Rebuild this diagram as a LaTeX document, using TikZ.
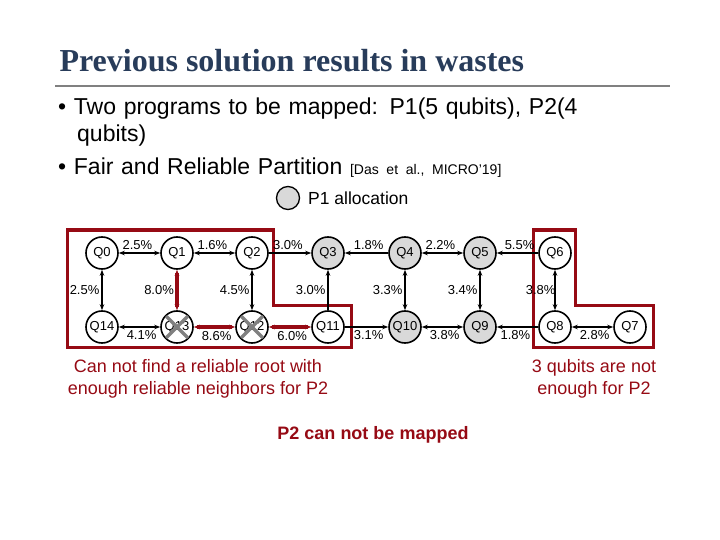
\documentclass[tikz,border=0pt]{standalone}
\usepackage{fontspec}
\setmainfont{Liberation Sans}
\newfontfamily\titlefont{Liberation Serif}
\usetikzlibrary{arrows.meta}
\definecolor{dred}{RGB}{150,10,20}
\definecolor{tblue}{RGB}{40,60,90}
\begin{document}
\begin{tikzpicture}[x=1pt,y=-1pt,
  q/.style={circle,draw,line width=1.6pt,minimum size=32pt,inner sep=0pt,font=\fontsize{13}{15}\selectfont,fill=white},
  g/.style={q,fill=gray!30},
  lk/.style={line width=2.2pt,{Stealth[length=6pt]}-{Stealth[length=6pt]}},
  ok/.style={line width=2.2pt,-{Stealth[length=6pt]}},
  rk/.style={lk,draw=dred,line width=3.2pt},
  lb/.style={font=\fontsize{13}{15}\selectfont,inner sep=0.5pt},
  box/.style={draw=dred,line width=3pt}]
\useasboundingbox (0,0) rectangle (720,540);
\node[anchor=west,font=\titlefont\bfseries\fontsize{32}{36}\selectfont,text=tblue] (title) at (56,61) {Previous solution results in wastes};
\draw[gray,line width=2.5pt] (55,86) -- (670,86);
\node[anchor=north west,text width=660pt,font=\fontsize{23}{27}\selectfont,inner sep=0pt] (b) at (58,98) {%
\textbullet\ Two programs to be mapped: P1(5 qubits), P2(4\\
\hspace*{19pt}qubits)\\[6pt]
\textbullet\ Fair and Reliable Partition {\fontsize{14}{16}\selectfont[Das et al., MICRO'19]}};
\node[circle,draw,line width=1.3pt,fill=gray!30,minimum size=23pt,inner sep=0pt] (leg) at (288,198) {};
\node[anchor=west,font=\fontsize{17.5}{20}\selectfont,inner sep=0pt] (legt) at (308,198) {P1 allocation};
\draw[box] (67,230) -- (273,230) -- (273,305) -- (351,305) -- (351,347) -- (67,347) -- cycle;
\draw[box] (533,230) -- (575,230) -- (575,305) -- (653,305) -- (653,347) -- (533,347) -- cycle;
\node[q] (Q0) at (102,253) {Q0};
\node[q] (Q1) at (177,253) {Q1};
\node[q] (Q2) at (252,253) {Q2};
\node[g] (Q3) at (328,253) {Q3};
\node[g] (Q4) at (405,253) {Q4};
\node[g] (Q5) at (480,253) {Q5};
\node[q] (Q6) at (555,253) {Q6};
\node[q] (Q14) at (102,327) {Q14};
\node[q] (Q13) at (177,327) {Q13};
\node[q] (Q12) at (252,327) {Q12};
\node[q] (Q11) at (328,327) {Q11};
\node[g] (Q10) at (405,327) {Q10};
\node[g] (Q9) at (480,327) {Q9};
\node[q] (Q8) at (555,327) {Q8};
\node[q] (Q7) at (630,327) {Q7};
\draw[lk] (Q0) -- node[lb,pos=0.45,above=2pt]{2.5\%} (Q1);
\draw[lk] (Q1) -- node[lb,pos=0.45,above=2pt]{1.6\%} (Q2);
\draw[ok] (Q2) -- node[lb,pos=0.45,above=2pt]{3.0\%} (Q3);
\draw[ok] (Q4) -- node[lb,pos=0.45,above=2pt]{1.8\%} (Q3);
\draw[lk] (Q4) -- node[lb,pos=0.45,above=2pt]{2.2\%} (Q5);
\draw[ok] (Q6) -- node[lb,pos=0.45,above=2pt]{5.5\%} (Q5);
\draw[lk] (Q0) -- node[lb,left=1pt]{2.5\%} (Q14);
\draw[rk] (Q1) -- node[lb,left=1pt]{8.0\%} (Q13);
\draw[lk] (Q2) -- node[lb,left=1pt]{4.5\%} (Q12);
\draw[ok] (Q11) -- node[lb,left=1pt]{3.0\%} (Q3);
\draw[lk] (Q4) -- node[lb,left=1pt]{3.3\%} (Q10);
\draw[lk] (Q5) -- node[lb,left=1pt]{3.4\%} (Q9);
\draw[lk] (Q6) -- node[lb,left=-2pt]{3.8\%} (Q8);
\draw[lk] (Q14) -- node[lb,pos=0.55,below=2pt]{4.1\%} (Q13);
\draw[rk] (Q13) -- node[lb,pos=0.55,below=2pt]{8.6\%} (Q12);
\draw[rk] (Q12) -- node[lb,pos=0.55,below=2pt]{6.0\%} (Q11);
\draw[ok] (Q11) -- node[lb,pos=0.55,below=2pt]{3.1\%} (Q10);
\draw[lk] (Q10) -- node[lb,pos=0.55,below=2pt]{3.8\%} (Q9);
\draw[ok] (Q8) -- node[lb,pos=0.55,below=2pt]{1.8\%} (Q9);
\draw[lk] (Q8) -- node[lb,pos=0.55,below=2pt]{2.8\%} (Q7);
\foreach \c in {Q13,Q12}{
  \draw[gray,line width=3.5pt] ([shift={(-11,-11)}]\c.center) -- ([shift={(11,11)}]\c.center);
  \draw[gray,line width=3.5pt] ([shift={(-11,11)}]\c.center) -- ([shift={(11,-11)}]\c.center);}
\node[align=center,text=dred,font=\fontsize{18}{22}\selectfont] (t1) at (198,379) {Can not find a reliable root with\\enough reliable neighbors for P2};
\node[align=center,text=dred,font=\fontsize{18}{22}\selectfont] (t2) at (594,379) {3 qubits are not\\enough for P2};
\node[text=dred,font=\bfseries\fontsize{18}{20}\selectfont] (t3) at (373,435) {P2 can not be mapped};
\end{tikzpicture}
\end{document}
